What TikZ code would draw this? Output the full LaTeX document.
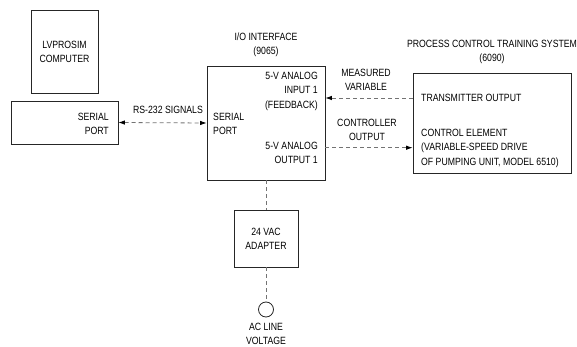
\documentclass[tikz,border=0pt]{standalone}
\usepackage{fontspec}
\setmainfont[FakeStretch=0.83]{Liberation Sans}
\usetikzlibrary{arrows.meta}
\begin{document}
\begin{tikzpicture}[x=1pt,y=-1pt,
  box/.style={draw=black!85,line width=0.8pt,inner sep=0pt},
  txt/.style={inner sep=0pt,font=\fontsize{10.5}{14.5}\selectfont},
  sig/.style={draw=black!55,line width=0.8pt,dash pattern=on 4pt off 3pt},
  hd/.tip={Latex[length=6.5pt,width=4.5pt,color=black]},
  tip/.style={-hd}]
\useasboundingbox (0,0) rectangle (577,347);
% boxes
\node[box,minimum width=67pt,minimum height=83pt] (comp) at (64.5,51.5) {};
\node[box,minimum width=107pt,minimum height=43pt] (lsp) at (64.5,122.5) {};
\node[box,minimum width=118pt,minimum height=114pt] (io) at (266,123) {};
\node[box,minimum width=158pt,minimum height=100pt] (pc) at (492,123) {};
\node[box,minimum width=64pt,minimum height=57pt] (ad) at (266,238.5) {};
\node[draw=black!85,line width=0.8pt,circle,minimum size=15pt,inner sep=0pt] (ac) at (266,309.5) {};
% texts
\node[txt,align=center] (tcomp) at (64.5,52) {LVPROSIM\\COMPUTER};
\node[txt,align=right,anchor=east] (tlsp) at (109,124) {SERIAL\\PORT};
\node[txt] (trs) at (168,110) {RS-232 SIGNALS};
\node[txt,align=center] (tio) at (266,45) {I/O INTERFACE\\(9065)};
\node[txt,align=right,anchor=east] (tin) at (318,91) {5-V ANALOG\\INPUT 1\\(FEEDBACK)};
\node[txt,align=left,anchor=west] (tiosp) at (213,124) {SERIAL\\PORT};
\node[txt,align=right,anchor=east] (tout) at (318,153) {5-V ANALOG\\OUTPUT 1};
\node[txt,align=center] (tmv) at (366,80) {MEASURED\\VARIABLE};
\node[txt,align=center] (tco) at (367,130) {CONTROLLER\\OUTPUT};
\node[txt,align=center] (tpc) at (492,52) {PROCESS CONTROL TRAINING SYSTEM\\(6090)};
\node[txt,anchor=west] (ttx) at (421,98) {TRANSMITTER OUTPUT};
\node[txt,align=left,anchor=west] (tce) at (421,148) {CONTROL ELEMENT\\(VARIABLE-SPEED DRIVE\\OF PUMPING UNIT, MODEL 6510)};
\node[txt,align=center] (tad) at (266,239) {24 VAC\\ADAPTER};
\node[txt,align=center] (tacl) at (266,334) {AC LINE\\VOLTAGE};
% connectors
\coordinate (c1) at (0,98);
\coordinate (c2) at (0,147.7);
\draw[sig,hd-hd] (lsp.east) -- (io.west);
\draw[sig,tip] (pc.west |- c1) -- (io.east |- c1);
\draw[sig,tip] (io.east |- c2) -- (pc.west |- c2);
\draw[sig] (io.south) -- (ad.north);
\draw[sig] (ad.south) -- (ac.north);
\end{tikzpicture}
\end{document}
